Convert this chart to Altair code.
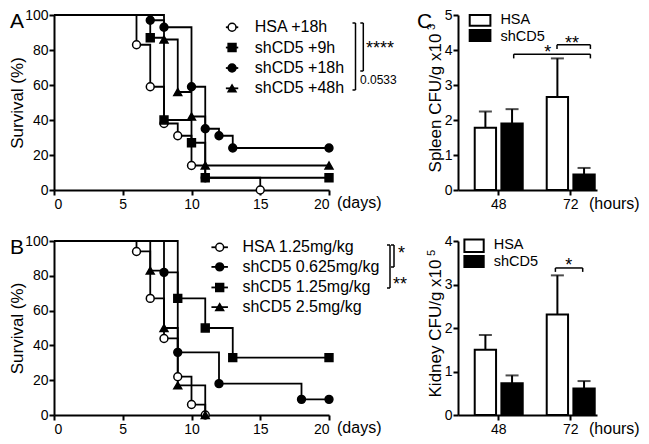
import altair as alt
import pandas as pd

FONT = "Liberation Sans"

# ---------------- data ----------------
A_SERIES = ["HSA +18h", "shCD5 +9h", "shCD5 +18h", "shCD5 +48h"]
A_DAYS = [
    [0, 6, 7, 8, 9, 10, 11, 15],
    [0, 7, 8, 10, 11, 20],
    [0, 7, 8, 10, 11, 12, 13, 20],
    [0, 8, 9, 10, 11, 20],
]
A_SURV = [
    [100, 83, 59, 38, 31, 14, 7, 0],
    [100, 87, 40, 27, 7, 7],
    [100, 97, 93, 59, 35, 31, 24, 24],
    [100, 86, 56, 42, 14, 14],
]
B_SERIES = ["HSA 1.25mg/kg", "shCD5 0.625mg/kg", "shCD5 1.25mg/kg", "shCD5 2.5mg/kg"]
B_DAYS = [
    [0, 6, 7, 8, 9, 10, 11],
    [0, 8, 9, 12, 18, 20],
    [0, 9, 11, 13, 20],
    [0, 7, 8, 9, 11],
]
B_SURV = [
    [100, 94, 67, 44, 22, 6, 0],
    [100, 82, 36, 18, 9, 9],
    [100, 67, 50, 33, 33],
    [100, 83, 50, 17, 0],
]
HOURS = ["48", "72"]
GROUPS = ["HSA", "shCD5"]
SPLEEN_HSA = [1.78, 2.66]
SPLEEN_HSA_ERR = [0.46, 1.10]
SPLEEN_SH = [1.90, 0.44]
SPLEEN_SH_ERR = [0.41, 0.19]
KIDNEY_HSA = [1.50, 2.31]
KIDNEY_HSA_ERR = [0.34, 0.90]
KIDNEY_SH = [0.73, 0.61]
KIDNEY_SH_ERR = [0.18, 0.17]

# ---------------- styles / layout ----------------
A_SHAPES = ["circle", "square", "circle", "triangle-up"]
A_FILLS = ["white", "black", "black", "black"]
B_SHAPES = ["circle", "circle", "square", "triangle-up"]
B_FILLS = ["white", "black", "black", "black"]
A_SIZES = [62, 62, 62, 90]
B_SIZES = [62, 62, 62, 90]

W_SURV = 275
H_TOP = 175
H_BOT = 174
W_BAR = 139
LEG_FONT = 16
BAR_LEG_FONT = 14.5

ONE = pd.DataFrame({"k": [0]})


def rule_px(x1, y1, x2, y2, sw=1.5):
    return alt.Chart(ONE).mark_rule(color="black", strokeWidth=sw).encode(
        x=alt.value(x1), y=alt.value(y1), x2=alt.value(x2), y2=alt.value(y2))


def text_px(t, x, y, size, align="left", baseline="middle", angle=0):
    return alt.Chart(pd.DataFrame({"t": [t]})).mark_text(
        font=FONT, fontSize=size, align=align, baseline=baseline, angle=angle,
        color="black").encode(text="t:N", x=alt.value(x), y=alt.value(y))


def bracket_px(x, y1, y2, tick=3):
    return [rule_px(x, y1, x, y2), rule_px(x - tick, y1, x, y1), rule_px(x - tick, y2, x, y2)]


def survival(series, days, surv, shapes, fills, sizes, H, leg, letter, annots):
    rows = []
    for s, d, v in zip(series, days, surv):
        for i, (dd, vv) in enumerate(zip(d, v)):
            rows.append({"series": s, "day": dd, "surv": vv, "order": i, "event": i > 0})
    df = pd.DataFrame(rows)
    x = alt.X("day:Q", scale=alt.Scale(domain=[0, 20], nice=False, zero=False),
              axis=alt.Axis(values=[0, 5, 10, 15, 20], format="d", title=None))
    y = alt.Y("surv:Q", scale=alt.Scale(domain=[0, 100], nice=False),
              axis=alt.Axis(values=[0, 20, 40, 60, 80, 100], title="Survival (%)",
                            titleX=-28, titleY=H / 2))
    shape = alt.Shape("series:N", scale=alt.Scale(domain=series, range=shapes), legend=None)
    fill = alt.Fill("series:N", scale=alt.Scale(domain=series, range=fills), legend=None)
    size = alt.Size("series:N", scale=alt.Scale(domain=series, range=sizes), legend=None)

    lines = alt.Chart(df).mark_line(interpolate="step-after", color="black", strokeWidth=1.8).encode(
        x=x, y=y, detail="series:N", order="order:Q")
    pts = alt.Chart(df).transform_filter("datum.event").mark_point(
        filled=True, stroke="black", strokeWidth=1.5, opacity=1).encode(
        x=x, y=y, shape=shape, fill=fill, size=size)

    mx, sx1, sx2, tx, ly = leg
    leg_pts = pd.DataFrame({"series": series, "day": [mx] * 4, "surv": ly})
    leg_seg = pd.DataFrame({"series": series, "day": [sx1] * 4, "day2": [sx2] * 4, "surv": ly})
    leg_txt = pd.DataFrame({"series": series, "day": [tx] * 4, "surv": ly})
    l1 = alt.Chart(leg_seg).mark_rule(color="black", strokeWidth=1.8).encode(
        x=x, x2=alt.X2("day2:Q"), y=y)
    l2 = alt.Chart(leg_pts).mark_point(filled=True, stroke="black", strokeWidth=1.5, opacity=1).encode(
        x=x, y=y, shape=shape, fill=fill, size=size)
    l3 = alt.Chart(leg_txt).mark_text(font=FONT, fontSize=LEG_FONT, align="left", baseline="middle",
                                      color="black").encode(x=x, y=y, text="series:N")
    layers = [lines, pts, l1, l2, l3, text_px(letter, -44, -4, 21, baseline="top"),
              text_px("(days)", 283, H + 13, 16)] + annots
    return alt.layer(*layers).properties(width=W_SURV, height=H)


def barpanel(hsa, hsa_e, sh, sh_e, ymax, H, title, sup, sup_xy, leg, brackets, stars, letter=None):
    df = pd.DataFrame({
        "hour": HOURS + HOURS,
        "group": [GROUPS[0]] * 2 + [GROUPS[1]] * 2,
        "mean": hsa + sh,
        "top": [m + e for m, e in zip(hsa + sh, hsa_e + sh_e)],
    })
    x = alt.X("hour:N", scale=alt.Scale(domain=HOURS, paddingInner=1 / 3, paddingOuter=0.132, align=0.88),
              axis=alt.Axis(title=None, labelAngle=0, labelPadding=2))
    xo = alt.XOffset("group:N", scale=alt.Scale(domain=GROUPS, paddingInner=0.2, paddingOuter=0))
    yscale = alt.Scale(domain=[0, ymax], nice=False)
    yaxis = alt.Axis(values=list(range(ymax + 1)), title=title, titleX=-14, titleY=H / 2)

    def yd(field):
        return alt.Y(field + ":Q", scale=yscale, axis=yaxis)

    bars = alt.Chart(df).mark_bar(stroke="black", strokeWidth=2).encode(
        x=x, xOffset=xo, y=yd("mean"),
        fill=alt.Fill("group:N", scale=alt.Scale(domain=GROUPS, range=["white", "black"]), legend=None))
    err = alt.Chart(df).mark_rule(color="black", strokeWidth=2).encode(
        x=x, xOffset=xo, y=yd("mean"), y2=alt.Y2("top:Q"))
    cap = alt.Chart(df).mark_tick(orient="horizontal", color="black", thickness=2, size=13).encode(
        x=x, xOffset=xo, y=yd("top"))
    layers = [bars, err, cap]
    # legend
    lx1, lx2, ty, by, tx, tys = leg
    for i, g in enumerate(GROUPS):
        layers.append(alt.Chart(ONE).mark_rect(
            fill=["white", "black"][i], stroke="black", strokeWidth=2).encode(
            x=alt.value(lx1), x2=alt.value(lx2), y=alt.value(ty[i]), y2=alt.value(by[i])))
        layers.append(text_px(g, tx, tys[i], BAR_LEG_FONT))
    # significance brackets (y in data units)
    for (bx1, bx2, bv, bv2) in brackets:
        bdf = pd.DataFrame({"v": [bv], "v2": [bv2]})
        layers.append(alt.Chart(bdf).mark_rule(color="black", strokeWidth=1.5).encode(
            x=alt.value(bx1), x2=alt.value(bx2), y=yd("v")))
        for bx in (bx1, bx2):
            layers.append(alt.Chart(bdf).mark_rule(color="black", strokeWidth=1.5).encode(
                x=alt.value(bx), y=yd("v"), y2=alt.Y2("v2:Q")))
    for (st, sxp, sv) in stars:
        sdf = pd.DataFrame({"t": [st], "v": [sv]})
        layers.append(alt.Chart(sdf).mark_text(font=FONT, fontSize=18, align="center",
                                               baseline="alphabetic", color="black").encode(
            text="t:N", x=alt.value(sxp), y=yd("v")))
    layers.append(text_px(sup, sup_xy[0], sup_xy[1], 11, align="center", angle=270))
    layers.append(text_px("(hours)", 131, H + 14, 16))
    if letter:
        layers.append(text_px(letter, -41, -4, 21, baseline="top"))
    return alt.layer(*layers).properties(width=W_BAR, height=H)


panelA = survival(
    A_SERIES, A_DAYS, A_SURV, A_SHAPES, A_FILLS, A_SIZES, H_TOP,
    (12.95, 12.5, 13.4, 14.6, [93.0, 81.4, 69.7, 58.1]), "A",
    bracket_px(301.5, 8, 75) + bracket_px(309.3, 8, 56) +
    [text_px("****", 312, 34, 18), text_px("0.0533", 306, 64.5, 12)])

panelB = survival(
    B_SERIES, B_DAYS, B_SURV, B_SHAPES, B_FILLS, B_SIZES, H_BOT,
    (12.05, 11.45, 12.65, 13.7, [96.4, 85.1, 73.3, 62.0]), "B",
    bracket_px(336, 4, 47) + bracket_px(340, 4, 26) +
    [text_px("*", 344, 13, 18), text_px("**", 339, 44, 18)])

spleen = barpanel(
    SPLEEN_HSA, SPLEEN_HSA_ERR, SPLEEN_SH, SPLEEN_SH_ERR, 5, H_TOP,
    "Spleen CFU/g x10", "3", (-26, 12),
    (11.7, 32.4, [0, 15], [10.7, 26], 42.4, [4.6, 21.6]),
    [(55.7, 132.4, 3.88, 3.76), (99, 132.4, 4.15, 4.03)],
    [("*", 89.7, 3.77), ("**", 114, 4.04)], letter="C")

kidney = barpanel(
    KIDNEY_HSA, KIDNEY_HSA_ERR, KIDNEY_SH, KIDNEY_SH_ERR, 4, H_BOT,
    "Kidney CFU/g x10", "5", (-26, 12),
    (6.4, 25.7, [-1.6, 15], [11, 26], 35.7, [4.2, 21.0]),
    [(97.4, 124.7, 3.38, 3.29)],
    [("*", 110.7, 3.30)])

chart = alt.concat(
    panelA, spleen, panelB, kidney, columns=2,
    spacing={"row": 51, "column": 129}, bounds="flush"
).resolve_scale(
    shape="independent", fill="independent", size="independent"
).properties(padding=0).configure_view(stroke=None).configure_axis(
    domainColor="black", domainWidth=2, tickColor="black", tickWidth=2, tickSize=5,
    labelFont=FONT, labelFontSize=14, labelColor="black", labelPadding=2,
    titleFont=FONT, titleFontSize=17, titleFontWeight="normal", titleColor="black",
    grid=False
).configure_axisY(labelPadding=1)

chart.save("out.html", embed_options={"renderer": "svg", "actions": False})
